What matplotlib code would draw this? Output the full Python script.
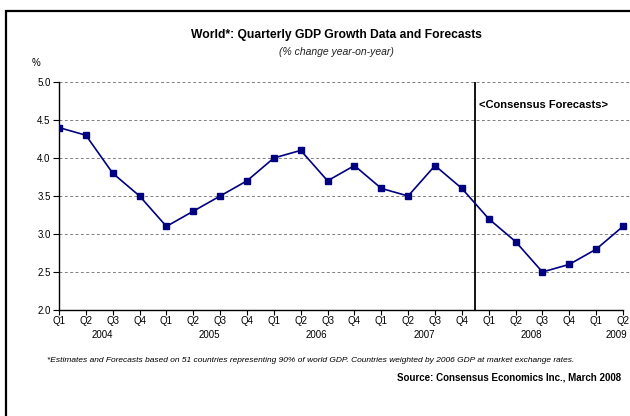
import matplotlib
matplotlib.use("Agg")
import matplotlib.pyplot as plt
from matplotlib.patches import Rectangle

quarters = ["Q1", "Q2", "Q3", "Q4"] * 5 + ["Q1", "Q2"]
years = ["2004", "2005", "2006", "2007", "2008", "2009"]
year_pos = [1.6, 5.6, 9.6, 13.6, 17.6, 20.75]
growth = [4.4, 4.3, 3.8, 3.5, 3.1, 3.3, 3.5, 3.7, 4.0, 4.1, 3.7, 3.9,
          3.6, 3.5, 3.9, 3.6, 3.2, 2.9, 2.5, 2.6, 2.8, 3.1]
yticks = [2.0, 2.5, 3.0, 3.5, 4.0, 4.5, 5.0]
forecast_start = 15.5

plt.rcParams['font.family'] = ['Liberation Sans', 'DejaVu Sans']

W, H = 630, 416
fig = plt.figure(figsize=(6.3, 4.16), dpi=100)

# frame border
fig.patches.append(Rectangle((6 / W, -0.1), 1.2, 1 - 11 / H + 0.1, transform=fig.transFigure,
                             fill=False, edgecolor='black', linewidth=1.6))

x0, x1 = 59, 623
y0, y1 = 310, 82
step = (x1 - x0) / 21
xmax = 21.5
ax = fig.add_axes([x0 / W, 1 - y0 / H, (xmax * step) / W, (y0 - y1) / H])
xs = list(range(len(growth)))
ax.set_xlim(0, xmax)
ax.set_ylim(2.0, 5.0)

for v in yticks[1:]:
    ax.axhline(v, color='#808080', linestyle=(0, (3, 2.5)), linewidth=0.7, zorder=1)

ax.plot(xs, growth, color='#000080', linewidth=1.2, marker='s', markersize=4.3,
        markerfacecolor='#000080', markeredgecolor='#000080', zorder=3)

ax.axvline(forecast_start, color='black', linewidth=1.3, zorder=2)
ax.text(forecast_start + 0.15, 4.7, "<Consensus Forecasts>", fontsize=8, fontweight='bold',
        va='center', ha='left')

for s in ['top', 'right']:
    ax.spines[s].set_visible(False)
ax.spines['left'].set_linewidth(1.0)
ax.spines['bottom'].set_linewidth(1.0)
ax.spines['bottom'].set_bounds(0, 21)

ax.set_yticks(yticks)
ax.set_yticklabels([f"{v:.1f}" for v in yticks], fontsize=7)
ax.set_xticks(xs)
ax.set_xticklabels(quarters, fontsize=7)
ax.tick_params(axis='x', direction='out', length=3.5, width=0.8, pad=1)
ax.tick_params(axis='y', direction='out', length=4, width=0.8, pad=2)

for y, p in zip(years, year_pos):
    ax.text(p, -25 / (y0 - y1), y, transform=ax.get_xaxis_transform(), fontsize=7,
            ha='center', va='center')

fig.text(336 / W, 1 - 35 / H, "World*: Quarterly GDP Growth Data and Forecasts",
         fontsize=8.7, fontweight='bold', ha='center', va='center')
fig.text(336 / W, 1 - 52 / H, "(% change year-on-year)", fontsize=7.5, style='italic',
         ha='center', va='center', color='#222222')
fig.text(36 / W, 1 - 63 / H, "%", fontsize=7, ha='center', va='center')
fig.text(47 / W, 1 - 361 / H,
         "*Estimates and Forecasts based on 51 countries representing 90% of world GDP. Countries weighted by 2006 GDP at market exchange rates.",
         fontsize=6.0, style='italic', ha='left', va='center')
fig.text(621 / W, 1 - 378 / H, "Source: Consensus Economics Inc., March 2008",
         fontsize=7, fontweight='bold', ha='right', va='center')

fig.savefig("out.png", dpi=100)
